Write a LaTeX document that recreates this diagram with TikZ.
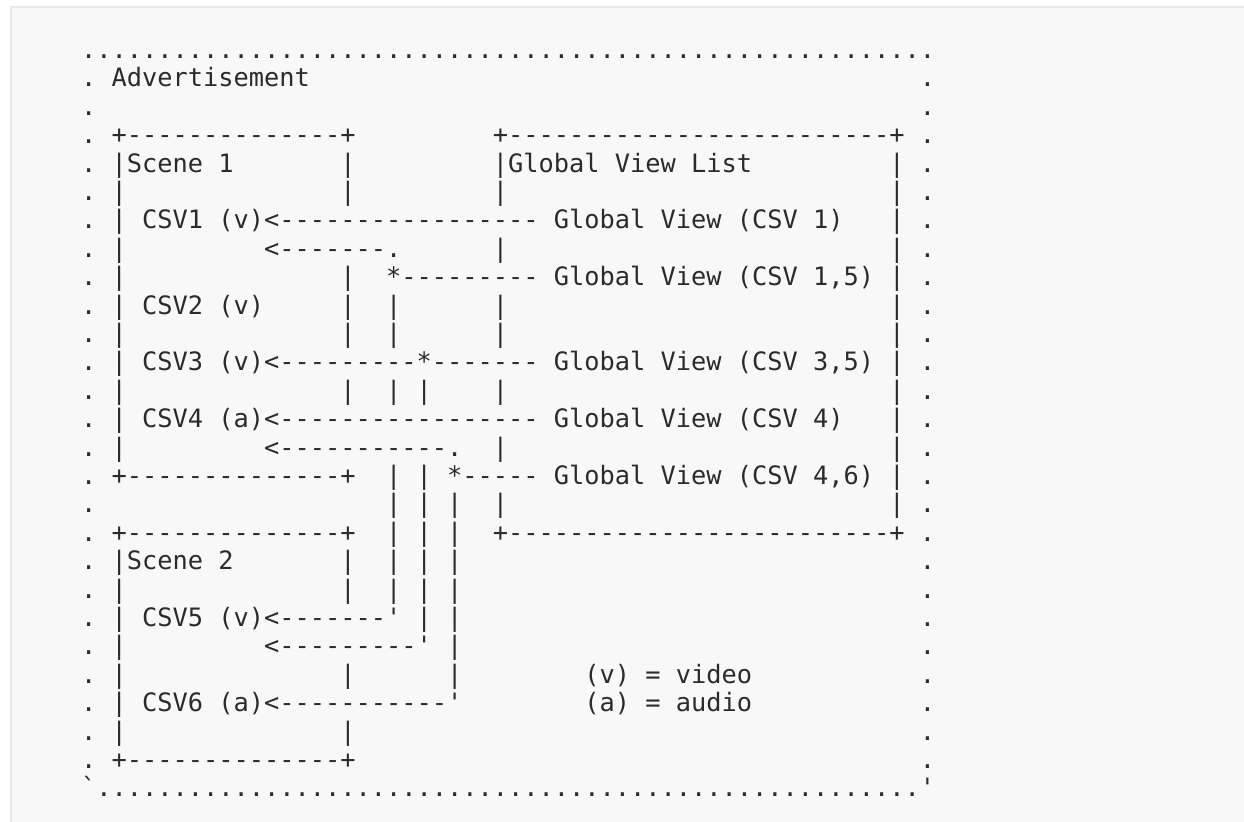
\documentclass[tikz,border=0pt]{standalone}
\usepackage{fontspec}
\setmonofont{DejaVu Sans Mono}
\definecolor{ink}{HTML}{2B2B2B}
\definecolor{panel}{HTML}{F8F8F8}
\definecolor{panelline}{HTML}{E8E8E8}
\tikzset{asc/.style={anchor=base west, inner sep=0pt, outer sep=0pt, text=ink,
  font=\ttfamily\fontsize{12.665pt}{14pt}\selectfont}}
% \ac{name}{row}{column}{text}
\newcommand{\ac}[4]{\node[asc] (#1) at ({81.08+15.25*(#3)},{58.5+28.4*(#2)}) {#4};}
% \vb{row}{list of columns}
\newcommand{\vb}[2]{\foreach \cc in {#2}{\ac{v#1c\cc}{#1}{\cc}{|}}}
\begin{document}
\begin{tikzpicture}[x=0.5pt,y=-0.5pt]
\useasboundingbox (0,0) rectangle (1244,822);
\clip (0,0) rectangle (1244,822);
\fill[white] (0,0) rectangle (1244,822);
\filldraw[fill=panel, draw=panelline, line width=1pt] (11,7.5) rectangle (1270,850);
% outer dotted frame
\foreach \c in {0,...,55} {\ac{top\c}{0}{\c}{.}}
\foreach \r in {1,...,25} {\ac{l\r}{\r}{0}{.}\ac{rr\r}{\r}{55}{.}}
\ac{bl}{26}{0}{`}
\foreach \c in {1,...,54} {\ac{bot\c}{26}{\c}{.}}
\ac{br}{26}{55}{'}
% row 1
\ac{adv}{1}{2}{Advertisement}
% row 3
\ac{s1top}{3}{2}{+--------------+}
\ac{gvtop}{3}{27}{+-------------------------+}
% row 4
\ac{s1t}{4}{2}{|Scene 1}
\vb{4}{17,53}
\ac{gvt}{4}{27}{|Global View List}
% row 5
\vb{5}{2,17,27,53}
% row 6
\vb{6}{2,53}
\ac{csv1}{6}{4}{CSV1 (v)<-----------------}
\ac{gv1}{6}{31}{Global View (CSV 1)}
% row 7
\vb{7}{2,27,53}
\ac{a7}{7}{12}{<-------.}
% row 8
\vb{8}{2,17,53}
\ac{j8}{8}{20}{*---------}
\ac{gv15}{8}{31}{Global View (CSV 1,5)}
% row 9
\vb{9}{2,17,20,27,53}
\ac{csv2}{9}{4}{CSV2 (v)}
% row 10
\vb{10}{2,17,20,27,53}
% row 11
\vb{11}{2,53}
\ac{csv3}{11}{4}{CSV3 (v)<---------*-------}
\ac{gv35}{11}{31}{Global View (CSV 3,5)}
% row 12
\vb{12}{2,17,20,22,27,53}
% row 13
\vb{13}{2,53}
\ac{csv4}{13}{4}{CSV4 (a)<-----------------}
\ac{gv4}{13}{31}{Global View (CSV 4)}
% row 14
\vb{14}{2,27,53}
\ac{a14}{14}{12}{<-----------.}
% row 15
\ac{s1bot}{15}{2}{+--------------+}
\vb{15}{20,22,53}
\ac{j15}{15}{24}{*-----}
\ac{gv46}{15}{31}{Global View (CSV 4,6)}
% row 16
\vb{16}{20,22,24,27,53}
% row 17
\ac{s2top}{17}{2}{+--------------+}
\vb{17}{20,22,24}
\ac{gvbot}{17}{27}{+-------------------------+}
% row 18
\ac{s2t}{18}{2}{|Scene 2}
\vb{18}{17,20,22,24}
% row 19
\vb{19}{2,17,20,22,24}
% row 20
\vb{20}{2,22,24}
\ac{csv5}{20}{4}{CSV5 (v)<-------'}
% row 21
\vb{21}{2,24}
\ac{a21}{21}{12}{<---------'}
% row 22
\vb{22}{2,17,24}
\ac{lv}{22}{33}{(v) = video}
% row 23
\vb{23}{2}
\ac{csv6}{23}{4}{CSV6 (a)<-----------'}
\ac{la}{23}{33}{(a) = audio}
% row 24
\vb{24}{2,17}
% row 25
\ac{s2bot}{25}{2}{+--------------+}
\end{tikzpicture}
\end{document}
